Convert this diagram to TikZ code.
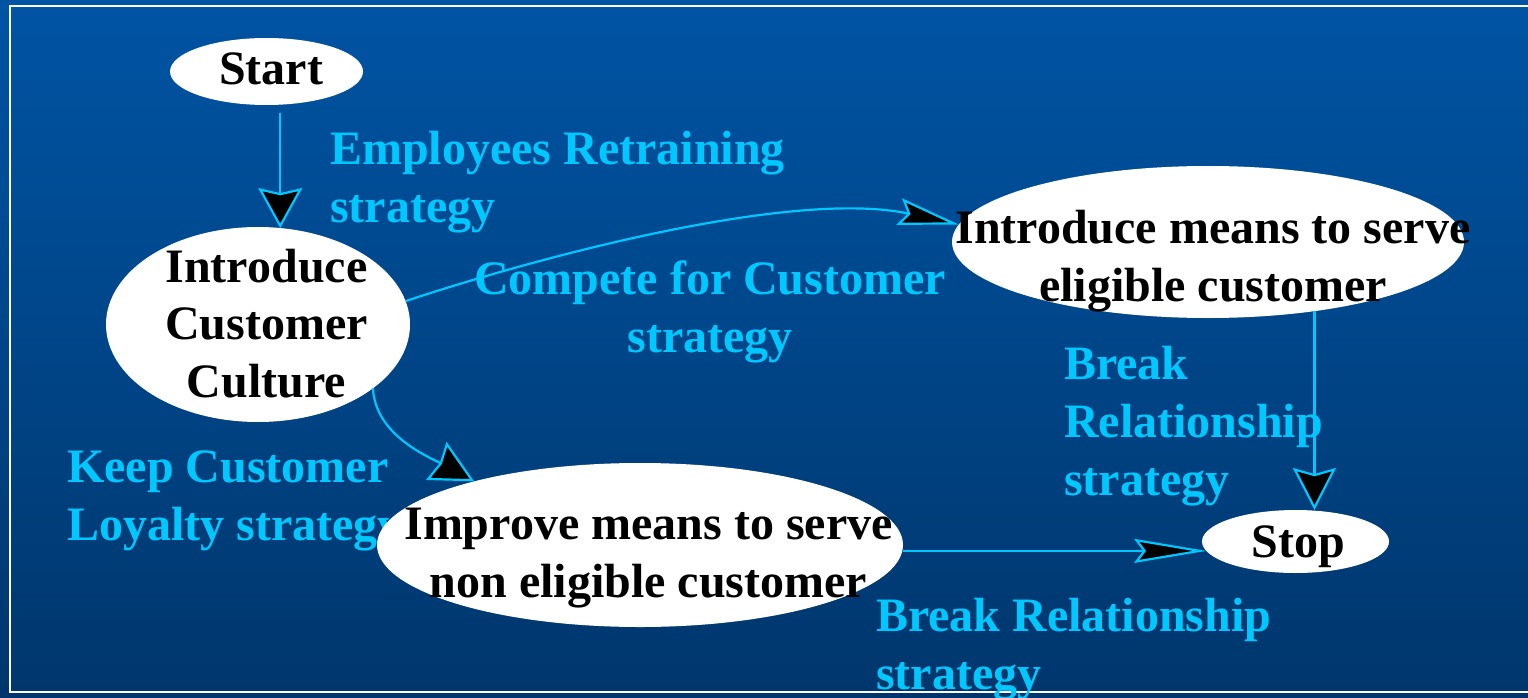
\documentclass[tikz,border=0pt]{standalone}
\usepackage{fontspec}
\setmainfont{Liberation Serif}
\usetikzlibrary{shapes.geometric,arrows.meta,calc}
\definecolor{bgtop}{RGB}{0,84,164}
\definecolor{bgbot}{RGB}{0,54,108}
\definecolor{lbl}{RGB}{0,200,255}
\tikzset{
  ell/.style={ellipse,fill=white,draw=none,inner sep=0pt,outer sep=0pt},
  blacktext/.style={font=\fontsize{48}{57.5}\selectfont\bfseries,text=black,align=center,anchor=base,inner sep=0pt},
  cyantext/.style={font=\fontsize{48}{58}\selectfont\bfseries,text=lbl,align=left,anchor=base west,inner sep=0pt},
  conn/.style={draw=lbl,line width=2.2pt}
}
\begin{document}
\begin{tikzpicture}[x=1pt,y=-1pt]
\useasboundingbox (0,0) rectangle (1528,698);
\shade[top color=bgtop,bottom color=bgbot] (0,0) rectangle (1528,698);
\draw[white,line width=2pt] (1540,6) -- (10,6) -- (10,692) -- (1540,692);

% labels (anchor = baseline of last line)
\node[cyantext] (l1) at (330,222) {Employees Retraining\\strategy};
\node[cyantext,align=center,anchor=base] (l2) at (710,352) {Compete for Customer\\strategy};
\node[cyantext] (l3) at (67,540) {Keep Customer\\Loyalty strategy};
\node[cyantext] (l4) at (1064,495) {Break\\Relationship\\strategy};
\node[cyantext] (l5) at (876,689) {Break Relationship\\strategy};

% ellipses
\node[ell,minimum width=193pt,minimum height=67pt] (start) at (266.5,71.5) {};
\node[ell,minimum width=304pt,minimum height=195pt] (icc) at (258,324.5) {};
\node[ell,minimum width=512pt,minimum height=152pt] (intro) at (1208,242) {};
\node[ell,minimum width=526pt,minimum height=164pt] (improve) at (640,545) {};
\node[ell,minimum width=187pt,minimum height=63pt] (stop) at (1295.5,541.5) {};

% texts
\node[blacktext] (startt) at (271,85) {Start};
\node[blacktext] (icct) at (266.5,397) {Introduce\\Customer\\Culture};
\node[blacktext] (introt) at (1213,301) {Introduce means to serve\\eligible customer};
\node[blacktext] (improvet) at (648.5,597) {Improve means to serve\\non eligible customer};
\node[blacktext] (stopt) at (1298.5,557) {Stop};

% connectors
\coordinate (s1) at ($(icc.77.8 |- start.south)+(0,8)$);
\draw[conn,-{Stealth[length=40pt,width=44pt,inset=5pt,fill=black]}] (s1) -- (icc.77.8);
\draw[conn,-{Stealth[length=61pt,width=27pt,inset=9pt,fill=black]}] (icc.9) .. controls (560,250) and (800,190) .. (intro.176.7);
\draw[conn,-{Stealth[length=43pt,width=43pt,inset=4pt,fill=black]}] (icc.-29.7) .. controls (375,435) and (429,457) .. (improve.159.3);
\draw[conn,-{Stealth[length=42pt,width=43pt,inset=6pt,fill=black]}] (intro.-33.4) -- (intro.-33.4 |- stop.north);
\draw[conn,-{Stealth[length=72pt,width=24pt,inset=9pt,fill=black]}] (improve.east |- stop.186) -- (stop.186);
\end{tikzpicture}
\end{document}
